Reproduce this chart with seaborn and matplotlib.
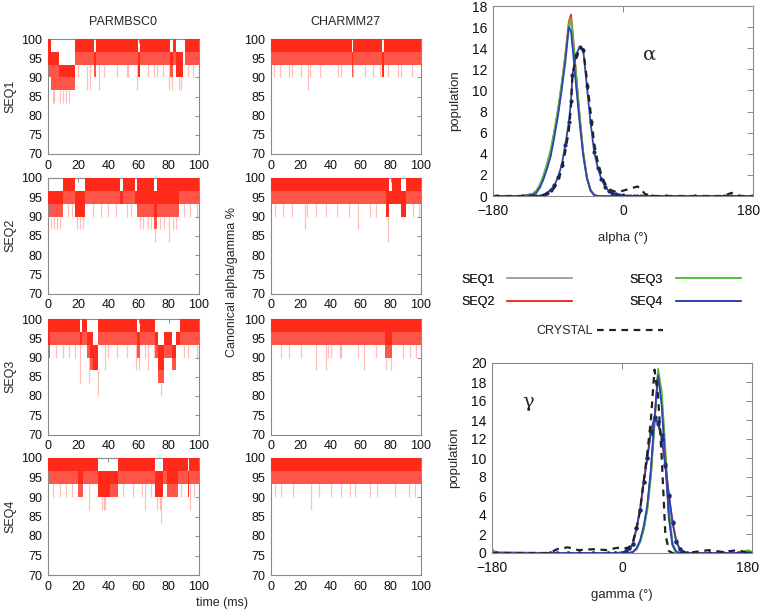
import numpy as np
import pandas as pd
import matplotlib
matplotlib.use("Agg")
import matplotlib.pyplot as plt
import matplotlib.transforms as mtransforms
import seaborn as sns

# ---------------- left panels: canonical alpha/gamma % vs time ----------------
# blocks: (start time, top of band, bottom of solid part, bottom of light part)
# spikes: (time, lowest value reached)
seq1_parmbsc0_blocks = [(0, 100, 93.3, 90), (2, 96.7, 93.3, 86.7), (7, 93.3, 90, 86.7),
                        (18, 100, 96.7, 93.3), (30.5, 96.7, 93.3, 90), (32, 100, 96.7, 93.3),
                        (59.8, 96.7, 90, 90), (61, 100, 96.7, 93.3), (81, 96.7, 93.3, 90),
                        (83, 100, 96.7, 93.3), (85, 96.7, 90, 90), (89.5, 90, 90, 90),
                        (90.5, 100, 96.7, 93.3)]
seq1_parmbsc0_spikes = [(3, 83.3), (4, 83.3), (5, 86.7), (8, 83.3), (10, 83.3), (12, 83.3),
                        (14, 83.3), (16, 86.7), (20, 90), (26, 86.7), (28, 86.7), (31, 90),
                        (34, 86.7), (37, 90), (46, 90), (52, 90), (53, 90), (59, 86.7),
                        (66, 90), (70, 90), (72, 90), (76, 90), (80, 86.7), (82, 86.7),
                        (87, 86.7), (88, 86.7), (93, 90), (96, 90)]

seq2_parmbsc0_blocks = [(0, 96.7, 93.3, 90), (10, 100, 96.7, 93.3), (18, 96.7, 90, 90),
                        (24.5, 100, 96.7, 93.3), (48, 96.7, 93.3, 93.3), (49.5, 100, 96.7, 93.3),
                        (57.5, 96.7, 93.3, 93.3), (59, 100, 93.3, 90), (70.5, 96.7, 90, 86.7),
                        (72, 100, 93.3, 90), (87, 100, 96.7, 93.3)]
seq2_parmbsc0_spikes = [(2, 86.7), (4, 86.7), (6, 86.7), (8, 86.7), (13, 90), (16, 90),
                        (19, 86.7), (21, 86.7), (23, 86.7), (30, 90), (35, 90), (40, 90),
                        (45, 90), (52, 90), (55, 90), (61, 86.7), (63, 86.7), (66, 86.7),
                        (68, 86.7), (71, 83.3), (74, 86.7), (77, 86.7), (80, 83.3),
                        (83, 86.7), (85, 86.7), (90, 90), (94, 90), (99, 90)]

seq3_parmbsc0_blocks = [(0, 100, 93.3, 90), (1, 100, 96.7, 93.3), (21, 96.7, 93.3, 93.3),
                        (22.7, 100, 96.7, 93.3), (26, 96.7, 93.3, 90), (28, 96.7, 90, 86.7),
                        (30, 93.3, 86.7, 86.7), (33.4, 100, 96.7, 93.3), (58.7, 96.7, 93.3, 90),
                        (61, 100, 96.7, 93.3), (71, 96.7, 93.3, 90), (73, 93.3, 86.7, 83.3),
                        (77, 96.7, 93.3, 90), (82, 93.3, 90, 86.7), (85, 96.7, 93.3, 93.3),
                        (87.5, 100, 96.7, 93.3)]
seq3_parmbsc0_spikes = [(5, 90), (10, 90), (14, 90), (18, 90), (21, 83.3), (27, 83.3),
                        (33, 80), (38, 86.7), (40, 90), (46, 90), (52, 90), (58, 86.7),
                        (60, 86.7), (64, 90), (66, 86.7), (70, 90), (75, 80), (76, 83.3),
                        (84, 86.7), (90, 90), (93, 90), (99, 90)]

seq4_parmbsc0_blocks = [(0, 100, 96.7, 93.3), (20, 100, 93.3, 90), (23, 100, 96.7, 93.3),
                        (33, 96.7, 90, 90), (41, 96.7, 93.3, 90), (46.5, 100, 96.7, 93.3),
                        (71, 96.7, 90, 90), (76, 100, 96.7, 93.3), (79, 100, 93.3, 90),
                        (86, 100, 96.7, 93.3), (92.5, 96.7, 90, 90), (93.5, 100, 96.7, 93.3)]
seq4_parmbsc0_spikes = [(3, 90), (8, 90), (12, 90), (16, 90), (22, 90), (27, 86.7),
                        (36, 86.7), (37, 86.7), (38, 86.7), (40, 90), (44, 90), (50, 90),
                        (56, 90), (62, 90), (64, 86.7), (68, 90), (72, 86.7), (74, 86.7),
                        (75, 83.3), (82, 90), (88, 90), (94, 86.7), (97, 90)]

seq1_charmm27_blocks = [(0, 100, 96.7, 93.3), (54.3, 96.7, 93.3, 90), (55, 100, 96.7, 93.3),
                        (74.5, 96.7, 90, 90), (75.3, 100, 96.7, 93.3)]
seq1_charmm27_spikes = [(2, 90), (6, 90), (12, 90), (14, 90), (20, 90), (25, 86.7), (26, 90),
                        (33, 90), (45, 90), (47, 90), (55, 90), (63, 90), (68, 90), (73, 90),
                        (78, 90), (85, 90), (87, 90), (94, 90)]

seq2_charmm27_blocks = [(0, 100, 96.7, 93.3), (77, 100, 90, 90), (79, 96.7, 93.3, 93.3),
                        (80.8, 100, 93.3, 93.3), (86.8, 96.7, 90, 90), (90, 100, 96.7, 93.3)]
seq2_charmm27_spikes = [(3, 90), (8, 90), (14, 90), (22.7, 86.7), (24, 90), (30, 90), (37, 90),
                        (44, 90), (52, 90), (58, 86.7), (66, 90), (70, 90), (78.5, 83.3),
                        (95, 90), (99, 90)]

seq3_charmm27_blocks = [(0, 100, 96.7, 93.3), (76.5, 100, 93.3, 90), (81, 100, 96.7, 93.3)]
seq3_charmm27_spikes = [(7, 90), (12, 90), (20, 90), (30, 86.7), (37, 86.7), (38, 90), (40, 90),
                        (46, 90), (47, 90), (58, 90), (62, 86.7), (70, 90), (77, 86.7),
                        (80, 86.7), (88, 90), (93, 90), (97, 90)]

seq4_charmm27_blocks = [(0, 100, 96.7, 93.3)]
seq4_charmm27_spikes = [(3, 90), (7, 90), (15, 90), (27, 86.7), (32, 90), (40, 90), (47, 90),
                        (53, 90), (56, 90), (66, 90), (71, 90), (83, 90), (92, 90), (96, 90)]

# ---------------- right panels: dihedral populations ----------------
alpha_angle = [-180, -175, -140, -125, -120, -115, -110, -105, -100, -95, -90, -85, -80, -75,
               -72, -70, -65, -60, -55, -50, -45, -40, -35, -30, -25, -20, -15, -10, -5, 0,
               5, 10, 15, 20, 25, 30, 40, 60, 100, 140, 150, 160, 180]
seq1_alpha = [0, 0, 0, 0.2, 0.4, 1.0, 1.8, 2.9, 4.2, 6.0, 8.0, 10.4, 13.0, 16.0, 16.5, 15.2,
              11.2, 7.3, 3.9, 1.7, 0.5, 0.1] + [0] * 21
seq2_alpha = [0, 0, 0, 0.2, 0.5, 1.0, 1.9, 3.0, 4.3, 6.1, 8.1, 10.5, 13.3, 16.5, 17.2, 15.8,
              11.6, 7.6, 4.1, 1.8, 0.6, 0.1] + [0] * 21
seq3_alpha = [0, 0, 0, 0.2, 0.5, 1.1, 2.0, 3.1, 4.4, 6.2, 8.2, 10.6, 13.2, 16.2, 16.8, 15.5,
              11.5, 7.5, 4.0, 1.8, 0.6, 0.1] + [0] * 21
seq4_alpha = [0, 0, 0, 0.1, 0.3, 0.8, 1.6, 2.6, 3.8, 5.6, 7.6, 10.0, 12.6, 16.0, 15.6, 14.2,
              10.5, 6.9, 3.8, 1.7, 0.5, 0.1] + [0] * 21
seq4_alpha_wide = [0, 0, 0, 0, 0, 0, 0.1, 0.3, 0.6, 1.0, 1.8, 2.9, 4.8, 7.0, 9.0, 11.5, 13.4,
                   14.1, 13.8, 10.4, 7.0, 4.2, 2.7, 1.6, 0.9, 0.5, 0.3, 0.15, 0.1, 0.05] + [0] * 13
crystal_alpha = [0, 0, 0, 0, 0, 0, 0.1, 0.2, 0.4, 0.8, 1.4, 2.5, 4.2, 6.2, 8.5, 11.5, 13.0,
                 14.0, 13.9, 11.0, 8.0, 5.0, 3.2, 2.0, 1.2, 0.7, 0.5, 0.4, 0.4, 0.5, 0.6, 0.7,
                 0.8, 0.9, 0.7, 0.2, 0, 0, 0, 0, 0.3, 0, 0]

gamma_angle = [-180, -175, -100, -90, -75, -60, -40, -20, -10, 0, 5, 10, 15, 20, 25, 30, 35,
               40, 45, 50, 55, 60, 65, 70, 75, 80, 85, 90, 120, 140, 160, 175, 180]
seq1_gamma = [0] * 12 + [0.1, 0.4, 1.2, 2.6, 4.7, 8.4, 13.8, 18.9, 16.0, 10.0, 3.9, 0.9, 0.1] + [0] * 8
seq2_gamma = [0] * 12 + [0.1, 0.4, 1.2, 2.6, 4.8, 8.5, 14.0, 19.0, 16.2, 10.2, 4.0, 0.9, 0.1] + [0] * 8
seq3_gamma = [0.4, 0.1] + [0] * 10 + [0.1, 0.4, 1.1, 2.4, 4.5, 8.0, 13.5, 19.4, 17.0, 11.0,
                                      4.5, 1.0, 0.2] + [0] * 6 + [0.3, 0.1]
seq4_gamma = [0] * 12 + [0.1, 0.5, 1.3, 2.8, 5.0, 8.8, 14.2, 18.7, 15.5, 9.5, 3.6, 0.8, 0.1] + [0] * 8
seq2_gamma_wide = [0] * 9 + [0.05, 0.2, 0.5, 0.9, 2.6, 4.5, 7.5, 10.0, 12.6, 14.1, 13.8, 12.4,
                             9.4, 6.1, 3.3, 1.3, 0.4, 0.1] + [0] * 6
seq4_gamma_wide = [0] * 9 + [0.05, 0.2, 0.5, 0.9, 2.6, 4.5, 7.5, 10.0, 12.8, 14.3, 13.6, 12.0,
                             9.2, 6.0, 3.2, 1.2, 0.4, 0.1] + [0] * 6
crystal_gamma = [0, 0, 0, 0.4, 0.6, 0.3, 0.4, 0.3, 0.5, 0.6, 0.5, 0.6, 1.2, 2.5, 4.5, 7.5, 10.5,
                 14.0, 19.3, 16.5, 10.0, 2.0, 0.2, 0, 0, 0, 0, 0, 0.3, 0.1, 0.3, 0, 0]

RED = "#ff2a1a"
FRAME = "#8a8a8a"
seq_colors = {"SEQ1": "#a3a3a3", "SEQ2": "#e5342b", "SEQ3": "#55bf3f", "SEQ4": "#2d44b3"}

sns.set_style("white")
plt.rcParams["font.family"] = ["Liberation Sans", "DejaVu Sans"]

W, H = 763, 610
fig = plt.figure(figsize=(W / 100, H / 100), dpi=100)


def px_axes(l, t, r, b):
    return fig.add_axes([l / W, 1 - b / H, (r - l) / W, (b - t) / H])


def style_axes(ax, size, length=3):
    for s in ax.spines.values():
        s.set_color(FRAME)
        s.set_linewidth(0.8)
    ax.tick_params(direction="in", length=length, width=0.7, color=FRAME, top=True, right=True,
                   labelsize=size, labelcolor="#111111")


def draw_trace(ax, blocks, spikes):
    t = [b[0] for b in blocks] + [100]
    top = [b[1] for b in blocks] + [blocks[-1][1]]
    solid = [b[2] for b in blocks] + [blocks[-1][2]]
    light = [b[3] for b in blocks] + [blocks[-1][3]]
    starts = np.array([b[0] for b in blocks])
    st = [s[0] for s in spikes]
    idx = np.searchsorted(starts, st, side="right") - 1
    upper = [light[i] for i in idx]
    ax.vlines(st, [s[1] for s in spikes], upper, color=RED, alpha=0.3, lw=0.9, zorder=1)
    ax.fill_between(t, light, solid, step="post", color=RED, alpha=0.8, lw=0, zorder=2)
    ax.fill_between(t, solid, top, step="post", color=RED, lw=0, zorder=3)
    ax.set_xlim(0, 100)
    ax.set_ylim(70, 100)
    ax.set_xticks(range(0, 101, 20))
    ax.set_yticks(range(70, 101, 5))
    style_axes(ax, 9)
    ax.tick_params(axis="y", pad=4)
    ax.tick_params(axis="x", pad=4)


rows = [(39, 154), (178, 293.5), (319, 434.5), (458, 575)]
cols = [(48, 199), (270.5, 420.7)]
panels = [
    [(seq1_parmbsc0_blocks, seq1_parmbsc0_spikes), (seq1_charmm27_blocks, seq1_charmm27_spikes)],
    [(seq2_parmbsc0_blocks, seq2_parmbsc0_spikes), (seq2_charmm27_blocks, seq2_charmm27_spikes)],
    [(seq3_parmbsc0_blocks, seq3_parmbsc0_spikes), (seq3_charmm27_blocks, seq3_charmm27_spikes)],
    [(seq4_parmbsc0_blocks, seq4_parmbsc0_spikes), (seq4_charmm27_blocks, seq4_charmm27_spikes)],
]
for r, (top_px, bot_px) in enumerate(rows):
    for c, (l_px, r_px) in enumerate(cols):
        ax = px_axes(l_px, top_px, r_px, bot_px)
        blocks, spikes = panels[r][c]
        draw_trace(ax, blocks, spikes)
        if c == 0:
            ax.set_ylabel("SEQ%d" % (r + 1), fontsize=9)
            ax.yaxis.set_label_coords((16 - l_px) / (r_px - l_px), 0.5)

fig.text(123.5 / W, 1 - 22 / H, "PARMBSC0", ha="center", va="center", fontsize=9)
fig.text(345.6 / W, 1 - 22 / H, "CHARMM27", ha="center", va="center", fontsize=9)
fig.text(232 / W, 1 - 282 / H, "Canonical alpha/gamma %", rotation=90, ha="center",
         va="center", fontsize=9)
fig.text(222 / W, 1 - 603 / H, "time (ms)", ha="center", va="center", fontsize=9)


def draw_density(ax, angle, curves, wide, crystal, ymax):
    for name, vals in curves:
        sns.lineplot(x=angle, y=vals, ax=ax, color=seq_colors[name], lw=1.3, label=name)
    for name, vals in wide:
        sns.lineplot(x=angle, y=vals, ax=ax, color=seq_colors[name], lw=1.3, marker="o",
                     markersize=3, markerfacecolor="#1c2a7a", markeredgewidth=0)
    sns.lineplot(x=angle, y=crystal, ax=ax, color="#222222", lw=1.6,
                 linestyle=(0, (3, 2.5)), label="CRYSTAL")
    if ax.get_legend() is not None:
        ax.get_legend().remove()
    ax.set_xlim(-180, 180)
    ax.set_ylim(0, ymax)
    ax.set_xticks([-180, 0, 180])
    ax.set_xticklabels(["\u2212180", "0", "180"])
    ax.set_yticks(range(0, ymax + 1, 2))
    style_axes(ax, 10, length=4)
    ax.tick_params(axis="x", pad=6)
    ax.tick_params(axis="y", pad=4)
    ax.set_ylabel("population", fontsize=9.5, labelpad=8)
    # keep the last tick label inside the canvas
    last = ax.get_xticklabels()[-1]
    last.set_horizontalalignment("right")
    last.set_transform(last.get_transform() + mtransforms.ScaledTranslation(0.07, 0, fig.dpi_scale_trans))


ax_a = px_axes(493, 6, 753, 196)
draw_density(ax_a, alpha_angle,
             [("SEQ1", seq1_alpha), ("SEQ2", seq2_alpha), ("SEQ3", seq3_alpha), ("SEQ4", seq4_alpha)],
             [("SEQ4", seq4_alpha_wide)], crystal_alpha, 18)
ax_a.set_xlabel("alpha (\u00b0)", fontsize=9.5, labelpad=10)
ax_a.text(37, 13.4, "\u03b1", fontsize=14, family="DejaVu Serif", ha="center", va="center")

ax_g = px_axes(492, 363, 752, 553)
draw_density(ax_g, gamma_angle,
             [("SEQ1", seq1_gamma), ("SEQ2", seq2_gamma), ("SEQ3", seq3_gamma), ("SEQ4", seq4_gamma)],
             [("SEQ2", seq2_gamma_wide), ("SEQ4", seq4_gamma_wide)], crystal_gamma, 20)
ax_g.set_xlabel("gamma (\u00b0)", fontsize=9.5, labelpad=10)
ax_g.text(-130, 15.9, "\u03b3", fontsize=14, family="DejaVu Serif", ha="center", va="center")

handles, labels = ax_a.get_legend_handles_labels()
lookup = dict(zip(labels, handles))
leg1 = fig.legend([lookup[k] for k in ["SEQ1", "SEQ2", "SEQ3", "SEQ4"]],
                  ["SEQ1", "SEQ2", "SEQ3", "SEQ4"], ncol=2, loc="center",
                  bbox_to_anchor=(601 / W, 1 - 291 / H), frameon=False, markerfirst=False,
                  handlelength=5.2, handletextpad=1.0, columnspacing=4.6, labelspacing=0.85,
                  fontsize=9)
fig.legend([lookup["CRYSTAL"]], ["CRYSTAL"], loc="center", bbox_to_anchor=(600 / W, 1 - 331 / H),
           frameon=False, markerfirst=False, handlelength=5.3, handletextpad=0.3, fontsize=9)
fig.add_artist(leg1)

fig.savefig("out.png", dpi=100)
